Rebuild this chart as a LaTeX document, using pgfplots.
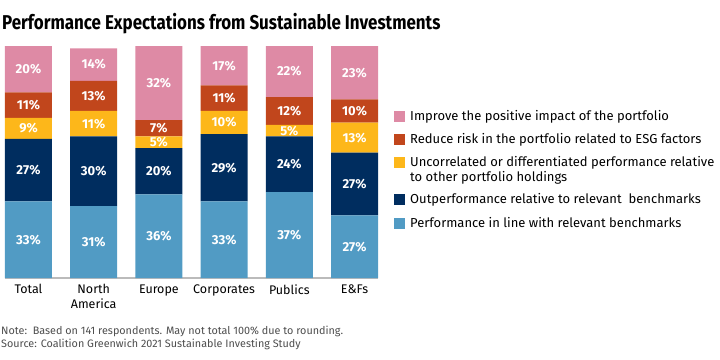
\documentclass[border=0pt]{standalone}
\usepackage{pgfplots}
\pgfplotsset{compat=1.18}
\usepackage{fontspec}
\setmainfont{Fira Sans}
\definecolor{cpink}{HTML}{DE8AA5}
\definecolor{crust}{HTML}{C1461C}
\definecolor{cyel}{HTML}{FDB71A}
\definecolor{cnavy}{HTML}{002D5F}
\definecolor{cblue}{HTML}{519BC4}
\definecolor{cline}{HTML}{BBBBBB}
\definecolor{cnote}{HTML}{4D4D4D}
\begin{document}
\begin{tikzpicture}
\useasboundingbox (0pt,0pt) rectangle (720pt,-359pt);
\node[anchor=base west, inner sep=0, font=\fontsize{20}{24}\selectfont\bfseries] at (2pt,-29pt) {\scalebox{0.847}[1]{Performance Expectations from Sustainable Investments}};
\begin{axis}[
  at={(5pt,-278pt)}, anchor=south west,
  scale only axis, width=373pt, height=232pt,
  xmin=-0.36, xmax=5.36, ymin=0, ymax=100,
  ybar stacked, bar width=47pt,
  axis x line*=bottom, axis y line=none,
  x axis line style={cline, line width=1.2pt, -},
  xtick={0,...,5},
  xticklabels={Total,{North\\America},Europe,Corporates,Publics,{E\&Fs}},
  xticklabel style={align=center, font=\fontsize{12.5}{14.5}\selectfont, anchor=north, yshift=-3pt},
  major tick length=0pt,
  ytick=\empty,
  /pgf/number format/assume math mode=true,
  point meta=rawy,
  nodes near coords={\pgfmathprintnumber{\pgfplotspointmeta}\%},
  every node near coord/.append style={anchor=center, text=white, font=\bfseries\fontsize{13}{14}\selectfont},
  clip=false,
]
\addplot[fill=cblue, draw=none] coordinates {(0,33) (1,31) (2,36) (3,33) (4,37) (5,27)};
\addplot[fill=cnavy, draw=none] coordinates {(0,27) (1,30) (2,20) (3,29) (4,24) (5,27)};
\addplot[fill=cyel, draw=none] coordinates {(0,9) (1,11) (2,5) (3,10) (4,5) (5,13)};
\addplot[fill=crust, draw=none] coordinates {(0,11) (1,13) (2,7) (3,11) (4,12) (5,10)};
\addplot[fill=cpink, draw=none] coordinates {(0,20) (1,14) (2,32) (3,17) (4,22) (5,23)};
\end{axis}
% legend
\begin{scope}[every node/.style={anchor=base west, inner sep=0, font=\fontsize{13}{15}\selectfont}]
\fill[cpink] (394pt,-110.5pt) rectangle (405pt,-121.5pt);
\node at (410pt,-120.5pt) {Improve the positive impact of the portfolio};
\fill[crust] (394pt,-133.5pt) rectangle (405pt,-144.5pt);
\node at (410pt,-143.5pt) {Reduce risk in the portfolio related to ESG factors};
\fill[cyel] (394pt,-156.5pt) rectangle (405pt,-167.5pt);
\node at (410pt,-166.5pt) {Uncorrelated or differentiated performance relative};
\node at (410pt,-181.5pt) {to other portfolio holdings};
\fill[cnavy] (394pt,-193.5pt) rectangle (405pt,-204.5pt);
\node at (410pt,-203.5pt) {Outperformance relative to relevant\ \ benchmarks};
\fill[cblue] (394pt,-217.5pt) rectangle (405pt,-228.5pt);
\node at (410pt,-227.5pt) {Performance in line with relevant benchmarks};
\end{scope}
\begin{scope}[every node/.style={anchor=base west, inner sep=0, text=cnote, font=\fontsize{10.8}{12}\selectfont}]
\node at (1pt,-334.5pt) {Note:\ \ Based on 141 respondents. May not total 100\% due to rounding.};
\node at (1pt,-347pt) {Source: Coalition Greenwich 2021 Sustainable Investing Study};
\end{scope}
\end{tikzpicture}
\end{document}
